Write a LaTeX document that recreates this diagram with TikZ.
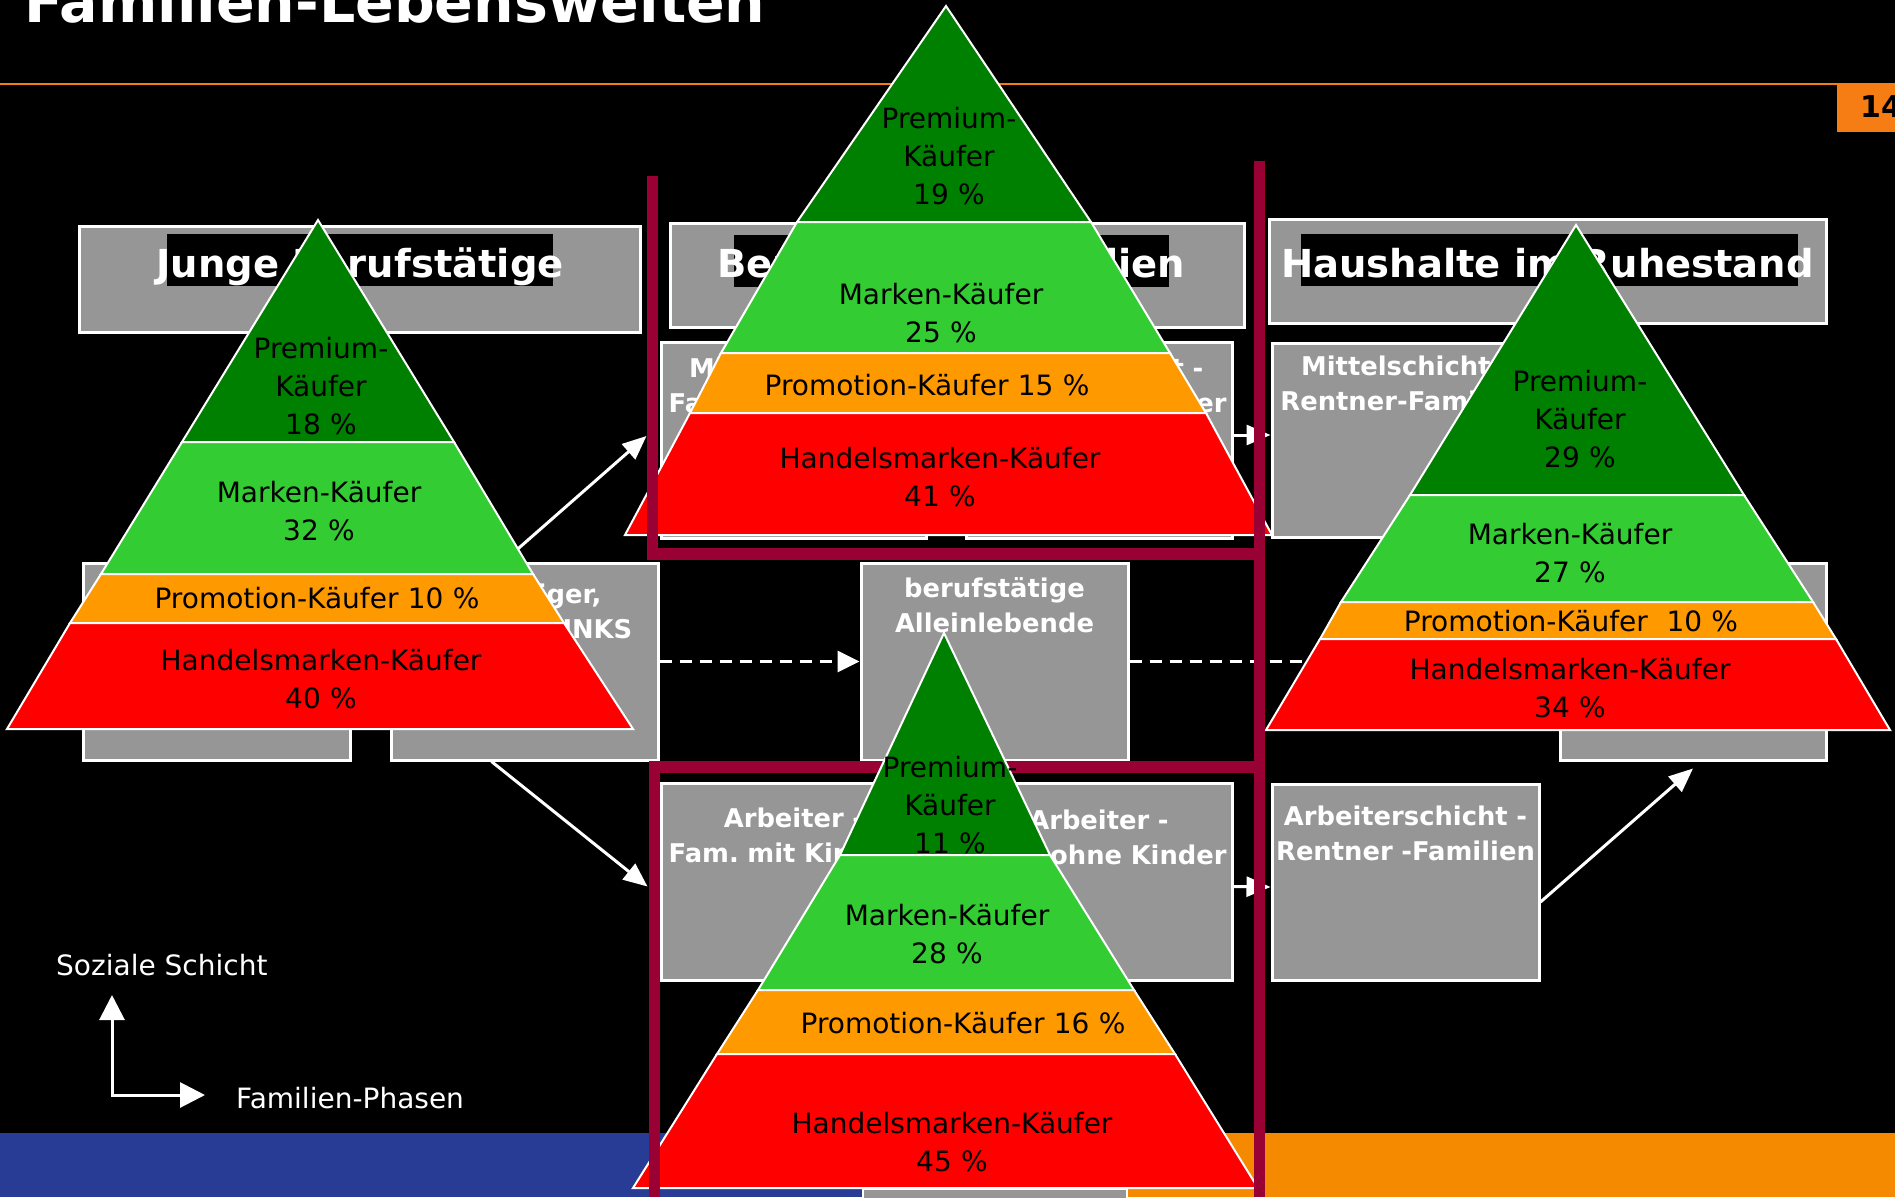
\documentclass[tikz,border=0pt]{standalone}
\usepackage{fontspec}
\setmainfont{DejaVu Sans}
\usepackage{tikz}
\usetikzlibrary{arrows.meta}
\usepackage{xcolor}
\frenchspacing
\definecolor{ColPrem}{RGB}{0,128,0}
\definecolor{ColMarke}{RGB}{51,204,51}
\definecolor{ColPromo}{RGB}{255,153,0}
\definecolor{ColHandel}{RGB}{255,0,0}
\definecolor{ColBox}{RGB}{150,150,150}
\definecolor{ColBracket}{RGB}{153,0,51}
\definecolor{ColLine}{RGB}{245,125,20}
\definecolor{ColBlue}{RGB}{40,60,150}
\definecolor{ColFoot}{RGB}{245,137,0}
\tikzstyle{LayerPyr}=[draw=white,line width=2pt,line join=miter]
\tikzstyle{TextPyr}=[text=black,inner sep=0pt,anchor=base,align=center,text width=360pt,
font=\fontsize{28}{38}\selectfont]
\tikzstyle{BoxGray}=[rectangle,draw=white,fill=ColBox,line width=3pt,inner sep=0pt]
\tikzstyle{TextBox}=[text=white,inner sep=0pt,anchor=base,align=center,text width=300pt,
font=\bfseries\fontsize{25.8}{35}\selectfont]
\tikzstyle{BarHead}=[rectangle,fill=black,inner sep=0pt,minimum height=52pt]
\tikzstyle{TextHead}=[text=white,inner sep=0pt,anchor=base,font=\bfseries\fontsize{38.5}{40}\selectfont]
\tikzstyle{ArrowConn}=[white,line width=3pt,-{Triangle[length=24pt,width=20pt]}]
\tikzstyle{ArrowDash}=[white,line width=3pt,dash pattern=on 12pt off 8pt,-{Triangle[length=22pt,width=21pt]}]
\tikzstyle{LineBracket}=[ColBracket,line width=11.5pt]
\tikzstyle{TextLegend}=[text=white,inner sep=0pt,anchor=base west,font=\fontsize{28}{34}\selectfont]
\tikzstyle{ArrowLegend}=[white,line width=3pt,{Triangle[length=25pt,width=25pt]}-{Triangle[length=25pt,width=25pt]}]
\begin{document}
\begin{tikzpicture}[x=1pt,y=-1pt]
        \useasboundingbox(0,0)rectangle(1895,1197);
        \fill[black](0,0)rectangle(1895,1197);
        % footer and title
        \fill[ColBlue](0,1133)rectangle(863,1197);
        \fill[ColFoot](1127,1133)rectangle(1895,1197);
        \draw[white,fill=ColBox,line width=2pt](863,1189)rectangle(1127,1205);
        \draw[ColLine,line width=2.5pt](0,84)--(1837,84);
        \fill[ColLine](1837,83)rectangle(1895,132);
        \node[text=black,inner sep=0pt,anchor=base west,font=\bfseries\fontsize{30}{32}\selectfont](page)at(1860,117){14};
        \node[text=white,inner sep=0pt,anchor=base west,font=\bfseries\fontsize{57}{60}\selectfont](title)at(24,22){Familien-Lebenswelten};
        % headers
        \node[BoxGray,minimum width=561pt,minimum height=106pt](h1)at(359.5,279){};
        \node[BarHead,minimum width=386pt](h1bar)at(360,260){};
        \node[TextHead](h1txt)at(360,277){Junge Berufstätige};
        \node[BoxGray,minimum width=574pt,minimum height=104pt](h2)at(957,275){};
        \node[BarHead,minimum width=435pt](h2bar)at(951.5,261){};
        \node[TextHead](h2txt)at(951,277){Berufstätige Familien};
        \node[BoxGray,minimum width=557pt,minimum height=104pt](h3)at(1547.5,271){};
        \node[BarHead,minimum width=497pt](h3bar)at(1549.5,260){};
        \node[TextHead](h3txt)at(1547.5,277){Haushalte im Ruhestand};
        % boxes
        \node[BoxGray,minimum width=267pt,minimum height=197pt](c1a)at(216.5,661.5){};
        \node[BoxGray,minimum width=267pt,minimum height=197pt](c1b)at(524.5,661.5){};
        \node[BoxGray,minimum width=267pt,minimum height=197pt](mid)at(994.5,661.5){};
        \node[BoxGray,minimum width=265pt,minimum height=196pt](c2ul)at(793.5,440){};
        \node[BoxGray,minimum width=266pt,minimum height=196pt](c2ur)at(1099,440){};
        \node[BoxGray,minimum width=265pt,minimum height=197pt](c2ll)at(793.5,881.5){};
        \node[BoxGray,minimum width=266pt,minimum height=197pt](c2lr)at(1099,881.5){};
        \node[BoxGray,minimum width=267pt,minimum height=194pt](c3u)at(1405.5,440){};
        \node[BoxGray,minimum width=267pt,minimum height=196pt](c3l)at(1405.5,882){};
        \node[BoxGray,minimum width=266pt,minimum height=197pt](c3m)at(1693,661.5){};
        \node[TextBox](c1btxt)at(524.5,603){Einsteiger,\\Singles, DINKS};
        \node[TextBox](midtxt)at(994.5,597){berufstätige\\Alleinlebende};
        \node[TextBox](c2ultxt)at(793.5,377){Mittelschicht -\\Fam. mit Kindern};
        \node[TextBox](c2urtxt)at(1099,377){Mittelschicht -\\Fam. ohne Kinder};
        \node[TextBox](c2lltxt)at(793.5,827){Arbeiter -\\Fam. mit Kindern};
        \node[TextBox](c2lrtxt)at(1099,829){Arbeiter -\\Fam. ohne Kinder};
        \node[TextBox](c3utxt)at(1405.5,375){Mittelschicht -\\Rentner-Familien};
        \node[TextBox](c3ltxt)at(1405.5,825){Arbeiterschicht -\\Rentner -Familien};
        % connectors
        \draw[ArrowConn]([xshift=-21pt]c1b.north)--([xshift=-13pt,yshift=4pt]c2ul.west);
        \draw[ArrowConn]([xshift=-33pt]c1b.south)--([xshift=-12pt,yshift=-5pt]c2ll.west);
        \draw[ArrowDash](c1b.east)--(mid.west);
        \draw[ArrowDash](mid.east)--(c3m.west);
        \draw[ArrowConn]([yshift=5pt]c2ur.east)--([yshift=5pt]c3u.west);
        \draw[ArrowConn]([yshift=-5pt]c2lr.east)--([yshift=-5pt]c3l.west);
        \draw[ArrowConn]([yshift=-20pt]c3l.east)--([yshift=-7pt]c3m.south);
        % legend
        \node[TextLegend](lgy)at(56,975){Soziale Schicht};
        \node[TextLegend](lgx)at(236,1108){Familien-Phasen};
        \coordinate(lgup)at(112,995);
        \coordinate(lgo)at(112,1095);
        \coordinate(lgright)at(205,1095);
        \draw[ArrowLegend](lgup)--(lgo)--(lgright);
        \draw[LineBracket](654.5,767)--(1259.5,767);
        % pyramid 1
        \draw[LayerPyr,fill=ColPrem](318,220)--(454,442)--(182,442)--cycle;
        \draw[LayerPyr,fill=ColMarke](182,442)--(454,442)--(533,574)--(101,574)--cycle;
        \draw[LayerPyr,fill=ColPromo](101,574)--(533,574)--(564,623)--(70,623)--cycle;
        \draw[LayerPyr,fill=ColHandel](70,623)--(564,623)--(633,729)--(7,729)--cycle;
        \node[TextPyr](p1a)at(321,358){Premium-\\Käufer\\18 \%};
        \node[TextPyr](p1b)at(319,502){Marken-Käufer\\32 \%};
        \node[TextPyr](p1c)at(317,608){Promotion-Käufer 10 \%};
        \node[TextPyr](p1d)at(321,670){Handelsmarken-Käufer\\40 \%};
        % pyramid 2
        \draw[LayerPyr,fill=ColPrem](946,6)--(1091,222)--(797,222)--cycle;
        \draw[LayerPyr,fill=ColMarke](797,222)--(1091,222)--(1170,353)--(721,353)--cycle;
        \draw[LayerPyr,fill=ColPromo](721,353)--(1170,353)--(1206,413)--(690,413)--cycle;
        \draw[LayerPyr,fill=ColHandel](690,413)--(1206,413)--(1272,535)--(625,535)--cycle;
        \node[TextPyr](p2a)at(949,128){Premium-\\Käufer\\19 \%};
        \node[TextPyr](p2b)at(941,304){Marken-Käufer\\25 \%};
        \node[TextPyr](p2c)at(927,395){Promotion-Käufer 15 \%};
        \node[TextPyr](p2d)at(940,468){Handelsmarken-Käufer\\41 \%};
        % pyramid 3
        \draw[LayerPyr,fill=ColPrem](1576,225)--(1744,495)--(1410,495)--cycle;
        \draw[LayerPyr,fill=ColMarke](1410,495)--(1744,495)--(1813,602)--(1341,602)--cycle;
        \draw[LayerPyr,fill=ColPromo](1341,602)--(1813,602)--(1836,639)--(1320,639)--cycle;
        \draw[LayerPyr,fill=ColHandel](1320,639)--(1836,639)--(1890,730)--(1266,730)--cycle;
        \node[TextPyr](p3a)at(1580,391){Premium-\\Käufer\\29 \%};
        \node[TextPyr](p3b)at(1570,544){Marken-Käufer\\27 \%};
        \node[TextPyr](p3c)at(1571,631){Promotion-Käufer~~10 \%};
        \node[TextPyr](p3d)at(1570,679){Handelsmarken-Käufer\\34 \%};
        % pyramid 4
        \draw[LayerPyr,fill=ColPrem](944,633)--(1050,855)--(840,855)--cycle;
        \draw[LayerPyr,fill=ColMarke](840,855)--(1050,855)--(1134,990)--(758,990)--cycle;
        \draw[LayerPyr,fill=ColPromo](758,990)--(1134,990)--(1175,1054)--(717,1054)--cycle;
        \draw[LayerPyr,fill=ColHandel](717,1054)--(1175,1054)--(1258,1188)--(633,1188)--cycle;
        \node[TextPyr](p4a)at(950,777){Premium-\\Käufer\\11 \%};
        \node[TextPyr](p4b)at(947,925){Marken-Käufer\\28 \%};
        \node[TextPyr](p4c)at(963,1033){Promotion-Käufer 16 \%};
        \node[TextPyr](p4d)at(952,1133){Handelsmarken-Käufer\\45 \%};
        % brackets
        \draw[LineBracket](652.5,176)--(652.5,554)--(1259.5,554);
        \draw[LineBracket](1259.5,161)--(1259.5,1197);
        \draw[LineBracket](654.5,761)--(654.5,1197);
    \end{tikzpicture}
\end{document}
